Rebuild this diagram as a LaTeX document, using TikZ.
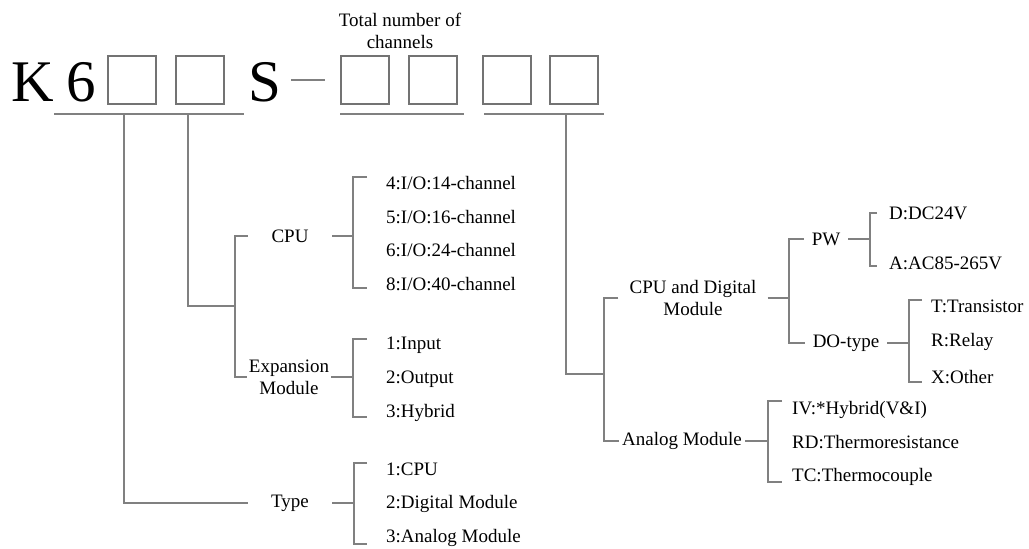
\documentclass[tikz,border=0pt]{standalone}
\usepackage{fontspec}
\setmainfont{Liberation Serif}
\begin{document}
\begin{tikzpicture}[x=1pt,y=-1pt,
wire/.style={draw=black!50,line width=1.1pt},
slot/.style={draw=black!55,line width=1.1pt,minimum size=48pt,inner sep=0pt},
big/.style={font=\fontsize{59}{59}\selectfont,inner sep=0pt,anchor=base west},
txt/.style={font=\fontsize{19}{22}\selectfont,inner sep=0pt,align=center},
item/.style={txt,anchor=west}]
\useasboundingbox (0,0) rectangle (1029,549);
% model code
\node[big] (k) at (11,101) {K};
\node[big] (six) at (66,101) {6};
\node[slot] (b1) at (132,80) {};
\node[slot] (b2) at (200,80) {};
\node[big] (s) at (248,101) {S};
\node[slot] (b3) at (365,80) {};
\node[slot] (b4) at (433,80) {};
\node[slot] (b5) at (507,80) {};
\node[slot] (b6) at (574,80) {};
\node[txt] (total) at (400,31) {Total number of\\channels};
\draw[wire] ([xshift=-49]b3.west) -- ([xshift=-15]b3.west);
\draw[wire] (54,114) -- (244,114);
\draw[wire] (340,114) -- (464,114);
\draw[wire] (484,114) -- (604,114);
\coordinate (v1) at (124,114);
\coordinate (v2) at (188,114);
\coordinate (v3) at (566,114);
%
\node[txt,minimum width=84pt] (type) at (290,503) {Type};
\node[txt,minimum width=84pt] (cpu) at (290,236) {CPU};
\node[txt,minimum width=84pt] (exp) at (289,377) {Expansion\\Module};
\node[txt,inner xsep=11pt] (cdm) at (693,298) {CPU and Digital\\Module};
\node[txt,inner xsep=3pt] (ana) at (682,441) {Analog Module};
\node[txt,inner xsep=8pt] (pw) at (826,239) {PW};
\node[txt,inner xsep=8pt] (dot) at (846,343) {DO-type};
%
\node[item,inner xsep=19pt] (c4) at (367,183) {4:I/O:14-channel};
\node[item,inner xsep=19pt] (c5) at (367,217) {5:I/O:16-channel};
\node[item,inner xsep=19pt] (c6) at (367,250) {6:I/O:24-channel};
\node[item,inner xsep=19pt] (c8) at (367,284) {8:I/O:40-channel};
\node[item,inner xsep=19pt] (e1) at (367,345) {1:Input};
\node[item,inner xsep=19pt] (e2) at (367,379) {2:Output};
\node[item,inner xsep=19pt] (e3) at (367,413) {3:Hybrid};
\node[item,inner xsep=19pt] (t1) at (367,469) {1:CPU};
\node[item,inner xsep=19pt] (t2) at (367,504) {2:Digital Module};
\node[item,inner xsep=19pt] (t3) at (367,538) {3:Analog Module};
\node[item,inner xsep=12pt] (pd) at (877,213) {D:DC24V};
\node[item,inner xsep=12pt] (pa) at (877,263) {A:AC85-265V};
\node[item,inner xsep=9pt] (dt) at (922,306) {T:Transistor};
\node[item,inner xsep=9pt] (dr) at (922,342) {R:Relay};
\node[item,inner xsep=9pt] (dx) at (922,377) {X:Other};
\node[item,inner xsep=10pt] (aiv) at (782,410) {IV:*Hybrid(V\&I)};
\node[item,inner xsep=10pt] (ard) at (782,442) {RD:Thermoresistance};
\node[item,inner xsep=10pt] (atc) at (782,477) {TC:Thermocouple};
%
\coordinate (jmod) at (235,306);
\coordinate (jcpu) at (353,236);
\coordinate (jexp) at (353,377);
\coordinate (jtype) at (354,503);
\coordinate (jcat) at (604,374);
\coordinate (jcd) at (789,298);
\coordinate (jana) at (768,441);
\coordinate (jpw) at (870,239);
\coordinate (jdo) at (909,343);
%
\draw[wire] (v1) |- (type.west);
\draw[wire] (v2) |- (jmod);
\draw[wire] (cpu.west) -| (jmod) |- (exp.west);
\draw[wire] (cpu.east) -- (jcpu);
\draw[wire] ([yshift=6]c4.west) -| (jcpu) |- ([yshift=-4]c8.west);
\draw[wire] (exp.east) -- (jexp);
\draw[wire] ([yshift=6]e1.west) -| (jexp) |- ([yshift=-4]e3.west);
\draw[wire] (type.east) -- (jtype);
\draw[wire] ([yshift=6]t1.west) -| (jtype) |- ([yshift=-6]t3.west);
%
\draw[wire] (v3) |- (jcat);
\draw[wire] (cdm.west) -| (jcat) |- (ana.west);
\draw[wire] (cdm.east) -- (jcd);
\draw[wire] (pw.west) -| (jcd) |- (dot.west);
\draw[wire] (pw.east) -- (jpw);
\draw[wire] (pd.west) -| (jpw) |- ([yshift=-3]pa.west);
\draw[wire] (dot.east) -- (jdo);
\draw[wire] ([yshift=6]dt.west) -| (jdo) |- ([yshift=-5]dx.west);
\draw[wire] (ana.east) -- (jana);
\draw[wire] ([yshift=9]aiv.west) -| (jana) |- ([yshift=-5]atc.west);
\end{tikzpicture}
\end{document}
